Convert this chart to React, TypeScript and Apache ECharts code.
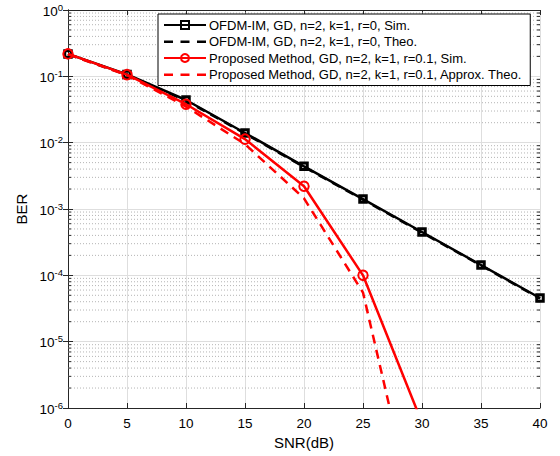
import React, { useEffect, useRef } from "react";
import * as echarts from "echarts";

const snr = [0, 5, 10, 15, 20, 25, 30, 35, 40];
const ofdmSim = [0.218, 0.107, 0.044, 0.014, 0.0044, 0.00141, 0.00045, 0.000143, 0.0000455];
const ofdmTheo = [0.215, 0.105, 0.043, 0.0137, 0.0043, 0.00138, 0.00044, 0.000141, 0.0000445];
const propSim = [0.218, 0.106, 0.038, 0.0113, 0.0022, 0.0001, 6e-7];
const propTheo = [0.215, 0.104, 0.035, 0.0095, 0.00145, 0.000055, 8e-9];

const names = [
  "OFDM-IM, GD, n=2, k=1, r=0, Sim.",
  "OFDM-IM, GD, n=2, k=1, r=0, Theo.",
  "Proposed Method, GD, n=2, k=1, r=0.1, Sim.",
  "Proposed Method, GD, n=2, k=1, r=0.1, Approx. Theo.",
];

const FONT = "'Liberation Sans', Arial, Helvetica, sans-serif";

const minorVals: number[] = [];
for (let e = -6; e < 0; e++) {
  for (let m = 2; m <= 9; m++) minorVals.push(m * Math.pow(10, e));
}

const dashIcon =
  "path://M0,0h0.01v0.01h-0.01z M0,4h9v2.5h-9z M16.5,4h9v2.5h-9z M33,4h9v2.5h-9z M41.99,9.99h0.01v0.01h-0.01z";

export default function App() {
  const ref = useRef<HTMLDivElement>(null);
  useEffect(() => {
    const chart = echarts.init(ref.current!, null, { renderer: "svg" });
    const pair = (ys: number[]) => ys.map((y, i) => [snr[i], y]);
    const axisColor = "#262626";
    const option: any = {
      animation: false,
      backgroundColor: "#fff",
      grid: { left: 68, right: 20, top: 10, bottom: 48, containLabel: false },
      legend: {
        orient: "vertical",
        left: 158,
        top: 14,
        padding: [4, 8, 4, 5],
        itemGap: 2.5,
        itemWidth: 42,
        itemHeight: 10,
        backgroundColor: "#fff",
        borderColor: "#000",
        borderWidth: 1,
        borderRadius: 0,
        textStyle: { fontFamily: FONT, fontSize: 13, color: "#000", lineHeight: 14, padding: [0, 0, 0, -2] },
        data: [
          { name: names[0] },
          { name: names[1], icon: dashIcon },
          { name: names[2] },
          { name: names[3], icon: dashIcon },
        ],
      },
      xAxis: [
        {
          type: "value",
          min: 0,
          max: 40,
          interval: 5,
          name: "SNR(dB)",
          nameLocation: "middle",
          nameGap: 23,
          nameTextStyle: { fontFamily: FONT, fontSize: 15, color: "#000" },
          axisLine: { lineStyle: { color: axisColor, width: 1 } },
          axisTick: { inside: true, length: 5, lineStyle: { color: axisColor } },
          axisLabel: { fontFamily: FONT, fontSize: 13.5, color: "#000", margin: 8 },
          splitLine: { show: true, lineStyle: { color: "#dedede", width: 1 } },
        },
        {
          type: "value",
          position: "top",
          min: 0,
          max: 40,
          interval: 5,
          axisLine: { show: true, lineStyle: { color: axisColor, width: 1 } },
          axisTick: { inside: true, length: 5, lineStyle: { color: axisColor } },
          axisLabel: { show: false },
          splitLine: { show: false },
        },
      ],
      yAxis: [
        {
          type: "log",
          logBase: 10,
          min: 1e-6,
          max: 1,
          splitNumber: 6,
          name: "BER",
          nameLocation: "middle",
          nameGap: 38,
          nameTextStyle: { fontFamily: FONT, fontSize: 15, color: "#000" },
          axisLine: { show: true, lineStyle: { color: axisColor, width: 1 } },
          axisTick: { inside: true, length: 5, lineStyle: { color: axisColor } },
          axisLabel: {
            margin: 5,
            formatter: (v: number) => `{b|10}{s|${Math.round(Math.log10(v))}}`,
            rich: {
              b: { fontFamily: FONT, fontSize: 13.5, color: "#000", verticalAlign: "bottom" },
              s: { fontFamily: FONT, fontSize: 9.5, color: "#000", verticalAlign: "bottom", padding: [0, 0, 6, 0] },
            },
          },
          splitLine: { show: true, lineStyle: { color: "#dedede", width: 1 } },
        },
        {
          type: "log",
          logBase: 10,
          min: 1e-6,
          max: 1,
          splitNumber: 6,
          position: "right",
          axisLine: { show: true, lineStyle: { color: axisColor, width: 1 } },
          axisTick: { inside: true, length: 5, lineStyle: { color: axisColor } },
          axisLabel: { show: false },
          splitLine: { show: false },
        },
      ],
      series: [
        {
          type: "custom",
          name: "minor",
          xAxisIndex: 0,
          yAxisIndex: 0,
          z: 1,
          silent: true,
          clip: false,
          data: minorVals.map((v) => [0, v]),
          renderItem: (params: any, api: any) => {
            const v = api.value(1);
            const p0 = api.coord([0, v]);
            const p1 = api.coord([40, v]);
            return {
              type: "group",
              children: [
                {
                  type: "line",
                  shape: { x1: p0[0], y1: p0[1], x2: p1[0], y2: p1[1] },
                  style: { stroke: "#b4b4b4", lineWidth: 1, lineDash: [1, 2] },
                },
                {
                  type: "line",
                  shape: { x1: p0[0], y1: p0[1], x2: p0[0] + 3, y2: p0[1] },
                  style: { stroke: axisColor, lineWidth: 1 },
                },
                {
                  type: "line",
                  shape: { x1: p1[0] - 3, y1: p1[1], x2: p1[0], y2: p1[1] },
                  style: { stroke: axisColor, lineWidth: 1 },
                },
              ],
            };
          },
        },
        {
          name: names[1],
          type: "line",
          data: pair(ofdmTheo),
          symbol: "none",
          z: 3,
          lineStyle: { color: "#000", width: 2.5, type: [9, 6.5] },
          itemStyle: { color: "#000" },
        },
        {
          name: names[0],
          type: "line",
          data: pair(ofdmSim),
          symbol: "rect",
          symbolSize: 6.5,
          z: 4,
          lineStyle: { color: "#000", width: 2.5 },
          itemStyle: { color: "transparent", borderColor: "#000", borderWidth: 3 },
        },
        {
          name: names[3],
          type: "line",
          data: pair(propTheo),
          symbol: "none",
          z: 5,
          lineStyle: { color: "#ff0000", width: 2.5, type: [9, 6.5] },
          itemStyle: { color: "#ff0000" },
        },
        {
          name: names[2],
          type: "line",
          data: pair(propSim),
          symbol: "circle",
          symbolSize: 9.5,
          z: 6,
          lineStyle: { color: "#ff0000", width: 2.5 },
          itemStyle: { color: "transparent", borderColor: "#ff0000", borderWidth: 2 },
        },
      ],
    };
    chart.setOption(option);
    return () => chart.dispose();
  }, []);
  return (
    <div
      ref={ref}
      style={{ position: "fixed", left: 0, top: 0, width: 560, height: 456, background: "#fff" }}
    />
  );
}
